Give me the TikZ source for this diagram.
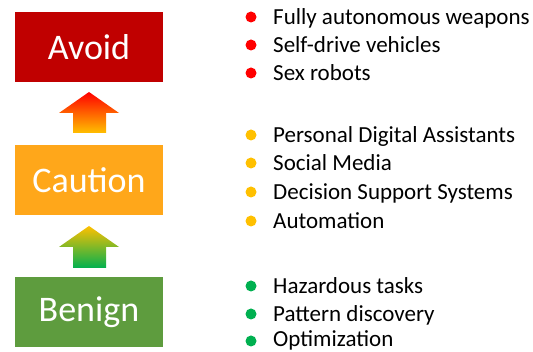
\documentclass[tikz,border=0pt]{standalone}
\usepackage{fontspec}
\setmainfont{Carlito}
\definecolor{avoidred}{HTML}{C00000}
\definecolor{cautionorange}{HTML}{FFA71A}
\definecolor{benigngreen}{HTML}{5E9C3E}
\definecolor{dotred}{HTML}{FF0000}
\definecolor{dotyellow}{HTML}{FFC000}
\definecolor{dotgreen}{HTML}{00B050}
\tikzset{
  level/.style={minimum width=148pt, minimum height=70pt, inner sep=0pt,
    text=white, font=\fontsize{36}{40}\selectfont},
  item/.style={anchor=base west, inner sep=0pt, text=black,
    font=\fontsize{23}{26}\selectfont},
  dot/.style={circle, inner sep=0pt, minimum size=11pt}
}
\begin{document}
\begin{tikzpicture}[x=1pt, y=-1pt]
    \useasboundingbox (0,0) rectangle (533,352);
    % levels
    \node[level, fill=avoidred] (avoid) at (89,47) {Avoid};
    \node[level, fill=cautionorange] (caution) at (89,180) {Caution};
    \node[level, fill=benigngreen] (benign) at (89,312) {Benign};
    % arrows
    \shade[top color=dotred, bottom color=dotyellow]
        (73,133) -- (73,113) -- (59,113) -- (89,92) -- (119,113) -- (106,113) -- (106,133) -- cycle;
    \shade[top color=dotyellow, bottom color=dotgreen]
        (73,268) -- (73,247) -- (59,247) -- (89,226) -- (119,247) -- (106,247) -- (106,268) -- cycle;
    % avoid list
    \node[dot, fill=dotred] (a1) at (251,17) {};
    \node[item] (t1) at (273,25) {Fully autonomous weapons};
    \node[dot, fill=dotred] (a2) at (251,45) {};
    \node[item] (t2) at (273,53) {Self-drive vehicles};
    \node[dot, fill=dotred] (a3) at (251,73) {};
    \node[item] (t3) at (273,81) {Sex robots};
    % caution list
    \node[dot, fill=dotyellow] (c1) at (251,135) {};
    \node[item] (t4) at (273,143) {Personal Digital Assistants};
    \node[dot, fill=dotyellow] (c2) at (251,163) {};
    \node[item] (t5) at (273,171) {Social Media};
    \node[dot, fill=dotyellow] (c3) at (251,192) {};
    \node[item] (t6) at (273,200) {Decision Support Systems};
    \node[dot, fill=dotyellow] (c4) at (251,221) {};
    \node[item] (t7) at (273,229) {Automation};
    % benign list
    \node[dot, fill=dotgreen] (b1) at (251,286) {};
    \node[item] (t8) at (273,294) {Hazardous tasks};
    \node[dot, fill=dotgreen] (b2) at (251,314) {};
    \node[item] (t9) at (273,322) {Pattern discovery};
    \node[dot, fill=dotgreen] (b3) at (251,341) {};
    \node[item] (t10) at (273,347) {Optimization};
\end{tikzpicture}
\end{document}
